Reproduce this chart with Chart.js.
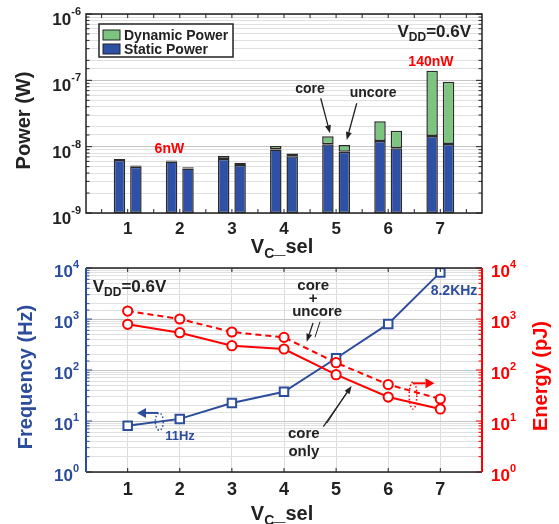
<!DOCTYPE html>
<html>
<head>
<meta charset="utf-8">
<script src="https://cdn.jsdelivr.net/npm/chart.js@4.4.0/dist/chart.umd.min.js"></script>
<style>
  body { margin: 0; background: #fff; }
  #wrap { position: relative; width: 559px; height: 524px; }
  #powerChart { position: absolute; left: 0; top: 0; }
  #freqChart { position: absolute; left: 0; top: 256px; }
</style>
</head>
<body>
<div id="wrap">
  <canvas id="powerChart" width="559" height="264"></canvas>
  <canvas id="freqChart" width="559" height="268"></canvas>
</div>
<script>
// V_C_sel settings
const vcSel = [1, 2, 3, 4, 5, 6, 7];

// power (W), stacked: static + dynamic
const coreStatic    = [6.3e-9, 6.0e-9, 6.5e-9, 9.1e-9, 1.09e-8, 1.22e-8, 1.45e-8];
const coreDynamic   = [0.2e-9, 0.2e-9, 0.8e-9, 1.1e-9, 3.4e-9, 1.2e-8, 1.245e-7];
const uncoreStatic  = [5.0e-9, 4.7e-9, 5.3e-9, 7.2e-9, 8.4e-9, 9.5e-9, 1.1e-8];
const uncoreDynamic = [0.2e-9, 0.2e-9, 0.4e-9, 0.7e-9, 2.2e-9, 7.9e-9, 8.4e-8];

// frequency (Hz) and energy (pJ)
const frequencyHz = [8.1, 11, 22.5, 37.5, 170, 800, 8200];
const energyTotal = [1430, 1000, 556, 437, 139, 52, 27];
const energyCore  = [786, 539, 300, 258, 81, 29.5, 17.2];

// decade tick labels (exponents)
const powerExp = [-9, -8, -7, -6];
const freqExp  = [0, 1, 2, 3, 4];
const energyExp = [0, 1, 2, 3, 4];

const FONT = '"Liberation Sans", Arial, Helvetica, sans-serif';
const INK = '#222222';
const BLUE = '#2c4c9c';
const RED = '#ff0000';
const BAR_BLUE = '#2f51a5';
const BAR_GREEN = '#7cc47f';

function font(size) { return 'bold ' + size + 'px ' + FONT; }
function pts(arr) { return vcSel.map((v, i) => ({ x: v, y: arr[i] })); }
function isDecade(v) { const l = Math.log10(v); return Math.abs(l - Math.round(l)) < 1e-6; }

function line(ctx, x1, y1, x2, y2) {
  ctx.beginPath(); ctx.moveTo(x1, y1); ctx.lineTo(x2, y2); ctx.stroke();
}

// draw text made of parts [text, size, dy]
function drawParts(ctx, parts, x, y, align, color) {
  let w = 0;
  parts.forEach(p => { ctx.font = font(p[1]); w += ctx.measureText(p[0]).width; });
  let cx = align === 'right' ? x - w : (align === 'center' ? x - w / 2 : x);
  ctx.fillStyle = color;
  ctx.textAlign = 'left';
  ctx.textBaseline = 'alphabetic';
  parts.forEach(p => {
    ctx.font = font(p[1]);
    ctx.fillText(p[0], cx, y + (p[2] || 0));
    cx += ctx.measureText(p[0]).width;
  });
}

function textAt(ctx, str, x, y, size, color) {
  ctx.font = font(size); ctx.fillStyle = color;
  ctx.textAlign = 'center'; ctx.textBaseline = 'middle';
  ctx.fillText(str, x, y);
}

function rotText(ctx, str, x, y, size, color) {
  ctx.save();
  ctx.translate(x, y); ctx.rotate(-Math.PI / 2);
  textAt(ctx, str, 0, 0, size, color);
  ctx.restore();
}

function drawArrow(ctx, x1, y1, x2, y2, color, lw, hl, hw) {
  ctx.strokeStyle = color; ctx.fillStyle = color; ctx.lineWidth = lw;
  const a = Math.atan2(y2 - y1, x2 - x1);
  const bx = x2 - hl * Math.cos(a), by = y2 - hl * Math.sin(a);
  line(ctx, x1, y1, bx, by);
  ctx.beginPath();
  ctx.moveTo(x2, y2);
  ctx.lineTo(bx + hw / 2 * Math.sin(a), by - hw / 2 * Math.cos(a));
  ctx.lineTo(bx - hw / 2 * Math.sin(a), by + hw / 2 * Math.cos(a));
  ctx.closePath(); ctx.fill();
}

function dottedEllipse(ctx, cx, cy, rx, ry, color) {
  ctx.save();
  ctx.strokeStyle = color; ctx.lineWidth = 1.5; ctx.setLineDash([1.5, 2]);
  ctx.beginPath(); ctx.ellipse(cx, cy, rx, ry, 0, 0, Math.PI * 2); ctx.stroke();
  ctx.restore();
}

function gridColor(c) {
  if (!c.tick) return '#e0e0e0';
  return isDecade(c.tick.value) ? '#c4c4c4' : '#e0e0e0';
}

const powerDecor = {
  id: 'powerDecor',
  afterDraw(chart) {
    const { ctx, chartArea: a, scales: { x, y } } = chart;
    ctx.save();
    // inward ticks
    ctx.strokeStyle = INK; ctx.lineWidth = 1;
    y.ticks.forEach(t => {
      const py = y.getPixelForValue(t.value);
      const len = isDecade(t.value) ? 6 : 3.5;
      line(ctx, a.left, py, a.left + len, py);
      line(ctx, a.right, py, a.right - len, py);
    });
    for (let v = 0.5; v < 7.8; v += 0.5) {
      const px = x.getPixelForValue(v);
      line(ctx, px, a.bottom, px, a.bottom - 4);
      line(ctx, px, a.top, px, a.top + 4);
    }
    ctx.lineWidth = 1.5;
    ctx.strokeRect(a.left, a.top, a.right - a.left, a.bottom - a.top);

    // decade labels
    powerExp.forEach(e => {
      const py = y.getPixelForValue(Math.pow(10, e));
      drawParts(ctx, [['10', 17], [String(e), 11, -10]], a.left - 5, py + 11, 'right', INK);
    });

    // axis titles
    rotText(ctx, 'Power (W)', 24, (a.top + a.bottom) / 2 + 7, 20, INK);
    drawParts(ctx, [['V', 20], ['C', 14, 5], ['_sel', 20]], (a.left + a.right) / 2 - 2, a.bottom + 40, 'center', INK);

    // legend
    const lx = a.left + 13, ly = a.top + 10, lw = 134, lh = 33;
    ctx.fillStyle = '#fff'; ctx.fillRect(lx, ly, lw, lh);
    ctx.strokeStyle = INK; ctx.lineWidth = 1.5; ctx.strokeRect(lx, ly, lw, lh);
    const seen = [];
    chart.data.datasets.forEach(d => { if (!seen.find(s => s.label === d.label)) seen.push(d); });
    seen.reverse().forEach((d, i) => {
      const sy = ly + 6 + i * 14;
      ctx.fillStyle = d.backgroundColor; ctx.fillRect(lx + 4, sy, 17, 10);
      ctx.strokeStyle = INK; ctx.lineWidth = 1; ctx.strokeRect(lx + 4, sy, 17, 10);
      ctx.font = font(14); ctx.fillStyle = INK; ctx.textAlign = 'left'; ctx.textBaseline = 'alphabetic';
      ctx.fillText(d.label, lx + 25, sy + 10);
    });

    // annotations
    const P = (vx, vy) => [x.getPixelForValue(vx), y.getPixelForValue(vy)];
    let p = P(1.80, 9.2e-9); textAt(ctx, '6nW', p[0], p[1], 14, RED);
    p = P(6.82, 1.89e-7); textAt(ctx, '140nW', p[0], p[1], 14, RED);
    p = P(7.59, 4.5e-7);
    drawParts(ctx, [['V', 17], ['DD', 12, 4], ['=0.6V', 17]], p[0], p[1], 'right', INK);
    p = P(4.50, 7.4e-8); textAt(ctx, 'core', p[0], p[1], 14, INK);
    p = P(5.71, 6.46e-8); textAt(ctx, 'uncore', p[0], p[1], 14, INK);
    let s = P(4.705, 5.37e-8), e = P(4.883, 1.59e-8);
    drawArrow(ctx, s[0], s[1], e[0], e[1], INK, 1.3, 8, 6);
    s = P(5.396, 4.52e-8); e = P(5.204, 1.26e-8);
    drawArrow(ctx, s[0], s[1], e[0], e[1], INK, 1.3, 8, 6);
    ctx.restore();
  }
};

const freqDecor = {
  id: 'freqDecor',
  afterDraw(chart) {
    const { ctx, chartArea: a, scales: { x, y, y1 } } = chart;
    ctx.save();
    // inward ticks
    ctx.lineWidth = 1;
    y.ticks.forEach(t => {
      const py = y.getPixelForValue(t.value);
      ctx.strokeStyle = BLUE;
      line(ctx, a.left, py, a.left + (isDecade(t.value) ? 6 : 3.5), py);
    });
    y1.ticks.forEach(t => {
      const py = y1.getPixelForValue(t.value);
      ctx.strokeStyle = RED;
      line(ctx, a.right, py, a.right - (isDecade(t.value) ? 6 : 3.5), py);
    });
    ctx.strokeStyle = INK;
    vcSel.forEach(v => {
      const px = x.getPixelForValue(v);
      line(ctx, px, a.bottom, px, a.bottom - 4);
      line(ctx, px, a.top, px, a.top + 4);
    });
    // box
    ctx.lineWidth = 1.5; ctx.strokeStyle = INK;
    line(ctx, a.left, a.top, a.right, a.top);
    line(ctx, a.left, a.bottom, a.right, a.bottom);
    ctx.lineWidth = 2;
    ctx.strokeStyle = BLUE; line(ctx, a.left, a.top, a.left, a.bottom);
    ctx.strokeStyle = RED; line(ctx, a.right, a.top, a.right, a.bottom);

    // decade labels
    freqExp.forEach(e => {
      const py = y.getPixelForValue(Math.pow(10, e));
      drawParts(ctx, [['10', 17], [String(e), 11, -9]], a.left - 7, py + 9, 'right', BLUE);
    });
    energyExp.forEach(e => {
      const py = y1.getPixelForValue(Math.pow(10, e));
      drawParts(ctx, [['10', 17], [String(e), 11, -9]], a.right + 9, py + 9, 'left', RED);
    });

    // titles
    rotText(ctx, 'Frequency (Hz)', 26, (a.top + a.bottom) / 2 + 7, 20, BLUE);
    rotText(ctx, 'Energy (pJ)', 541, (a.top + a.bottom) / 2 + 6, 20, RED);
    drawParts(ctx, [['V', 20], ['C', 14, 5], ['_sel', 20]], (a.left + a.right) / 2 - 2, a.bottom + 48, 'center', INK);

    // annotations
    const P = (vx, vy, ax) => [x.getPixelForValue(vx), (ax || y).getPixelForValue(vy)];
    let p = P(0.33, 3430);
    drawParts(ctx, [['V', 17], ['DD', 12, 4], ['=0.6V', 17]], p[0], p[1], 'left', INK);
    p = P(7.263, 3540); textAt(ctx, '8.2KHz', p[0], p[1], 14, BLUE);
    p = P(2.004, 5.08); textAt(ctx, '11Hz', p[0], p[1], 13, BLUE);

    p = P(4.56, 4540);
    textAt(ctx, 'core', p[0], p[1], 15, INK);
    textAt(ctx, '+', p[0], p[1] + 13, 15, INK);
    textAt(ctx, 'uncore', p[0] + 4, p[1] + 26.5, 15, INK);
    p = P(4.38, 5.69);
    textAt(ctx, 'core', p[0], p[1], 15, INK);
    textAt(ctx, 'only', p[0], p[1] + 18, 15, INK);

    let s = P(4.557, 835), e = P(4.436, 359);
    drawArrow(ctx, s[0], s[1], e[0], e[1], INK, 1.3, 8, 6);
    s = P(4.691, 885); e = P(4.595, 438);
    ctx.lineWidth = 1; line(ctx, s[0], s[1], e[0], e[1]);
    s = P(4.755, 7.73); e = P(5.298, 48.6);
    drawArrow(ctx, s[0], s[1], e[0], e[1], INK, 1.3, 8, 6);
    s = P(4.826, 9.14); e = P(5.235, 40.5);
    ctx.lineWidth = 1; line(ctx, s[0], s[1], e[0], e[1]);

    // axis pointers
    p = P(1.607, 9.69); dottedEllipse(ctx, p[0], p[1], 4, 8.5, BLUE);
    s = P(1.582, 14.4); e = P(1.179, 14.4);
    drawArrow(ctx, s[0], s[1], e[0], e[1], BLUE, 2, 9, 10);
    p = P(6.476, 31.6); dottedEllipse(ctx, p[0], p[1], 3.8, 13.5, RED);
    s = P(6.472, 54.8); e = P(6.888, 54.8);
    drawArrow(ctx, s[0], s[1], e[0], e[1], RED, 2, 9, 10);
    ctx.restore();
  }
};

const barStyle = {
  borderColor: '#2a2a2a', borderWidth: 1.5, borderSkipped: false,
  categoryPercentage: 0.63, barPercentage: 0.7
};

new Chart(document.getElementById('powerChart'), {
  type: 'bar',
  data: {
    datasets: [
      Object.assign({ label: 'Static Power', stack: 'core', data: pts(coreStatic), backgroundColor: BAR_BLUE }, barStyle),
      Object.assign({ label: 'Dynamic Power', stack: 'core', data: pts(coreDynamic), backgroundColor: BAR_GREEN }, barStyle),
      Object.assign({ label: 'Static Power', stack: 'uncore', data: pts(uncoreStatic), backgroundColor: BAR_BLUE }, barStyle),
      Object.assign({ label: 'Dynamic Power', stack: 'uncore', data: pts(uncoreDynamic), backgroundColor: BAR_GREEN }, barStyle)
    ]
  },
  options: {
    responsive: false,
    animation: false,
    layout: { padding: { top: 14, right: 77, left: 0, bottom: 0 } },
    plugins: { legend: { display: false }, tooltip: { enabled: false } },
    scales: {
      x: {
        type: 'linear', min: 0.2, max: 7.8, offset: false,
        afterBuildTicks: s => { s.ticks = vcSel.map(v => ({ value: v })); },
        afterFit: s => { s.height = 51; },
        grid: { display: false, offset: false, drawTicks: false },
        border: { display: false },
        ticks: { font: { family: FONT, size: 17, weight: 'bold' }, color: INK, padding: 6 }
      },
      y: {
        type: 'logarithmic', min: 1e-9, max: 1e-6, stacked: true,
        afterFit: s => { s.width = 86; },
        ticks: { display: false, autoSkip: false },
        grid: { color: gridColor, lineWidth: 1, drawTicks: false },
        border: { display: false }
      }
    }
  },
  plugins: [powerDecor]
});

const pointStyleRed = {
  borderColor: RED, borderWidth: 2, pointStyle: 'circle', pointRadius: 4.6,
  pointBackgroundColor: '#fff', pointBorderColor: RED, pointBorderWidth: 2, tension: 0, yAxisID: 'y1'
};

new Chart(document.getElementById('freqChart'), {
  type: 'line',
  data: {
    datasets: [
      Object.assign({ label: 'Energy core+uncore', data: pts(energyTotal), borderDash: [6, 4] }, pointStyleRed),
      Object.assign({ label: 'Energy core only', data: pts(energyCore) }, pointStyleRed),
      {
        label: 'Frequency', data: pts(frequencyHz), yAxisID: 'y',
        borderColor: BLUE, borderWidth: 2, tension: 0,
        pointStyle: 'rect', pointRadius: 6, pointBackgroundColor: '#fff',
        pointBorderColor: BLUE, pointBorderWidth: 2
      }
    ]
  },
  options: {
    responsive: false,
    animation: false,
    layout: { padding: { top: 12, right: 0, left: 0, bottom: 0 } },
    plugins: { legend: { display: false }, tooltip: { enabled: false } },
    scales: {
      x: {
        type: 'linear', min: 0.2, max: 7.8, offset: false,
        afterBuildTicks: s => { s.ticks = vcSel.map(v => ({ value: v })); },
        afterFit: s => { s.height = 52; },
        grid: { color: '#dcdcdc', drawTicks: false },
        border: { display: false },
        ticks: { font: { family: FONT, size: 18, weight: 'bold' }, color: INK, padding: 7 }
      },
      y: {
        type: 'logarithmic', position: 'left', min: 1, max: 1e4,
        afterFit: s => { s.width = 86; },
        ticks: { display: false, autoSkip: false },
        grid: { color: gridColor, drawTicks: false },
        border: { display: false }
      },
      y1: {
        type: 'logarithmic', position: 'right', min: 1, max: 1e4,
        afterFit: s => { s.width = 77; },
        ticks: { display: false, autoSkip: false },
        grid: { drawOnChartArea: false, drawTicks: false },
        border: { display: false }
      }
    }
  },
  plugins: [freqDecor]
});
</script>
</body>
</html>
